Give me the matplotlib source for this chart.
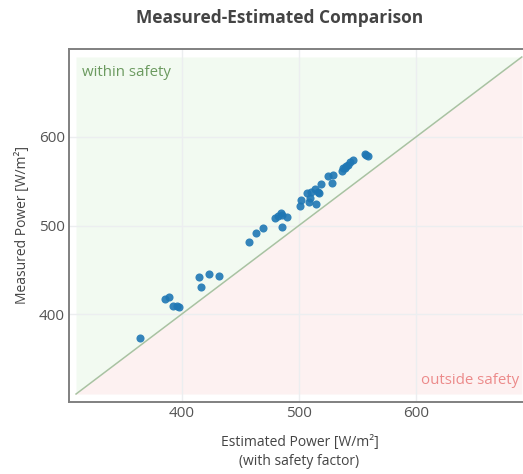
import numpy as np
import matplotlib
matplotlib.use("Agg")
from matplotlib import pyplot as plt

# estimated power (with safety factor) vs measured power, W/m²
estimated = [364.5, 385.8, 389.4, 392.9, 395.7, 397.7, 414.7, 416.2, 423.3, 431.8,
             457.4, 463.3, 469.0, 479.8, 482.4, 484.4, 485.8, 486.0, 489.5,
             500.9, 501.4, 507.1, 508.8, 509.7, 510.0, 514.5, 513.6, 516.5, 517.3, 519.0,
             525.0, 527.9, 529.2, 536.4, 537.8, 539.0, 540.0, 542.0, 543.5, 545.8,
             556.3, 557.0, 559.1]
measured = [373.7, 416.6, 419.6, 409.8, 409.0, 408.3, 441.4, 430.1, 444.8, 443.3,
            481.0, 491.2, 496.8, 508.1, 511.1, 514.5, 498.0, 512.0, 509.3,
            522.0, 528.8, 536.4, 526.2, 530.6, 538.2, 524.3, 540.9, 538.2, 537.1, 546.6,
            555.9, 547.7, 557.0, 561.9, 565.3, 565.0, 567.2, 568.4, 572.0, 574.0,
            580.5, 579.7, 578.9]

lo, hi = 310, 690
ticks = [400, 500, 600]

plt.rcParams['font.family'] = ['Open Sans', 'DejaVu Sans']

fig = plt.figure(figsize=(5.23, 4.74), dpi=100)
ax = fig.add_axes([69 / 523, 1 - 402 / 474, 461 / 523, 353 / 474])

# zones
ax.fill_between([lo, hi], [lo, hi], [hi, hi], color='#f2faf1', zorder=0, linewidth=0)
ax.fill_between([lo, hi], [lo, lo], [lo, hi], color='#fdf1f1', zorder=0, linewidth=0)
ax.plot([lo, hi], [lo, hi], color='#a9c2a2', linewidth=1.1, zorder=2)

ax.scatter(estimated, measured, s=34, color='#1f77b4', alpha=0.9, linewidths=0, zorder=3)

ax.text(315, 672, 'within safety', color='#6b9a5f', fontsize=10.8, va='center', ha='left')
ax.text(688, 325, 'outside safety', color='#ec8a8a', fontsize=10.8, va='center', ha='right')

ax.set_xlim(304, 697)
ax.set_ylim(301, 699)
ax.set_xticks(ticks)
ax.set_yticks(ticks)
ax.grid(True, color='#eceef0', linewidth=1, zorder=1)
ax.set_axisbelow(True)
ax.tick_params(length=0, labelsize=11, labelcolor='#555555', pad=3)
for side in ['left', 'bottom', 'top']:
    ax.spines[side].set_color('#808080')
    ax.spines[side].set_linewidth(1.4)
ax.spines['right'].set_visible(False)

ax.set_xlabel('Estimated Power [W/m²]\n(with safety factor)', fontsize=10,
              color='#444444', labelpad=10, linespacing=1.35)
ax.set_ylabel('Measured Power [W/m²]', fontsize=10, color='#444444', labelpad=6)

fig.text(280 / 523, 1 - 18 / 474, 'Measured-Estimated Comparison', ha='center', va='center',
         fontsize=12.5, fontweight='bold', color='#444444')

fig.savefig('out.png', dpi=100)
